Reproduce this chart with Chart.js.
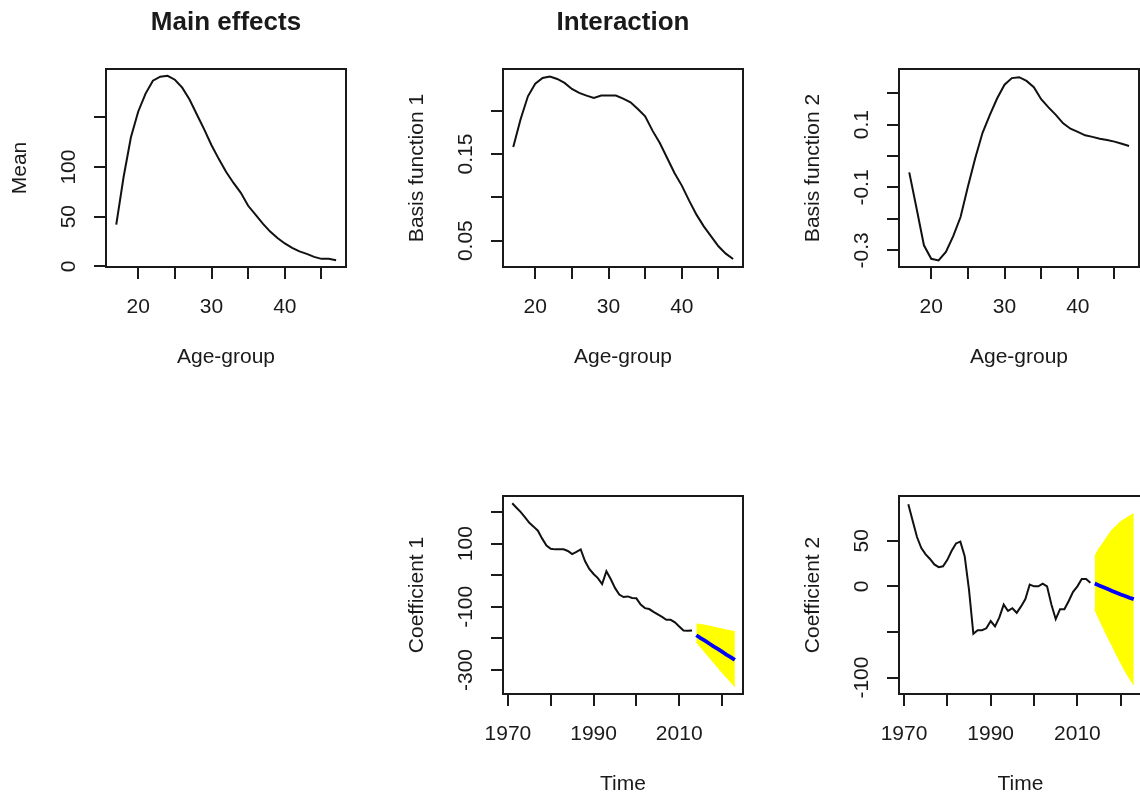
<!DOCTYPE html>
<html>
<head>
<meta charset="utf-8">
<script src="https://cdn.jsdelivr.net/npm/chart.js@4.4.1/dist/chart.umd.min.js"></script>
<style>
  html, body { margin: 0; padding: 0; background: #fff; }
  body { width: 1140px; height: 796px; position: relative; overflow: hidden; }
  canvas { position: absolute; }
</style>
</head>
<body>
<canvas id="panelMean"></canvas>
<canvas id="panelBasis1"></canvas>
<canvas id="panelBasis2"></canvas>
<canvas id="panelCoef1"></canvas>
<canvas id="panelCoef2"></canvas>
<script>
// --- datos ---
const ages = [17, 18, 19, 20, 21, 22, 23, 24, 25, 26, 27, 28, 29, 30, 31, 32,
              33, 34, 35, 36, 37, 38, 39, 40, 41, 42, 43, 44, 45, 46, 47];
const meanValues = [42, 90, 130, 156, 174, 187, 191, 192, 188, 180, 168, 153, 138, 122, 108, 95,
                    84, 74, 61, 52, 43, 35, 28.5, 23, 18.5, 15, 12.5, 9.5, 7.5, 7.5, 6];
const basis1Values = [0.158, 0.190, 0.2165, 0.231, 0.2377, 0.2392, 0.2365, 0.232, 0.225, 0.2204, 0.2173,
                      0.2146, 0.2173, 0.2173, 0.2173, 0.2138, 0.2096, 0.2019, 0.1935, 0.1769, 0.1627,
                      0.1454, 0.128, 0.1135, 0.0962, 0.080, 0.0665, 0.055, 0.0435, 0.035, 0.0288];
const basis2Values = [-0.052, -0.167, -0.284, -0.327, -0.332, -0.305, -0.255, -0.194, -0.098, -0.007,
                      0.074, 0.131, 0.184, 0.227, 0.248, 0.251, 0.239, 0.219, 0.181, 0.155, 0.131,
                      0.104, 0.087, 0.077, 0.066, 0.061, 0.055, 0.051, 0.046, 0.039, 0.032];

const years = [1971, 1972, 1973, 1974, 1975, 1976, 1977, 1978, 1979, 1980, 1981, 1982, 1983, 1984,
               1985, 1986, 1987, 1988, 1989, 1990, 1991, 1992, 1993, 1994, 1995, 1996, 1997, 1998,
               1999, 2000, 2001, 2002, 2003, 2004, 2005, 2006, 2007, 2008, 2009, 2010, 2011, 2012, 2013];
const coef1Values = [228, 214, 200, 183, 166, 154, 141, 116, 94, 84, 82, 82, 82, 77,
                     67, 74, 82, 45, 20, 4, -9, -28, 13, -12, -40, -61, -69, -67,
                     -72, -73, -93, -104, -107, -116, -124, -132, -141, -141, -149, -162, -175, -176, -175];
const coef2Values = [90, 72, 54, 42, 35, 30, 24, 21, 22, 29, 39, 47, 49, 33,
                     -4, -52, -48, -48, -46, -38, -44, -34, -20, -27, -24, -29, -22, -14,
                     2, 0, 0, 3, 0, -20, -36, -25, -25, -16, -6, 0, 8, 8, 4];

const forecastYears = [2014, 2015, 2016, 2017, 2018, 2019, 2020, 2021, 2022, 2023];
const coef1Forecast = [-190, -199, -207, -216, -225, -233, -242, -251, -259, -268];
const coef1Upper = [-154, -156, -158, -161, -164, -167, -170, -173, -176, -178];
const coef1Lower = [-212, -228, -244, -260, -276, -292, -308, -323, -338, -353];
const coef2Forecast = [3, 1, -1, -3, -5, -7, -9, -10.5, -12.5, -14];
const coef2Upper = [33, 41.5, 48, 55.5, 62, 66.5, 71, 74, 77, 79.5];
const coef2Lower = [-25, -36, -46, -56, -65, -75, -84, -93, -101, -108];

// marcas de los ejes
const ageTicks = [20, 25, 30, 35, 40, 45];
const ageTickLabels = ["20", "", "30", "", "40", ""];
const yearTicks = [1970, 1980, 1990, 2000, 2010, 2020];
const yearTickLabels = ["1970", "", "1990", "", "2010", ""];
const meanTicks = [0, 50, 100, 150];
const meanTickLabels = ["0", "50", "100", ""];
const basis1Ticks = [0.05, 0.10, 0.15, 0.20];
const basis1TickLabels = ["0.05", "", "0.15", ""];
const basis2Ticks = [-0.3, -0.2, -0.1, 0, 0.1, 0.2];
const basis2TickLabels = ["-0.3", "", "-0.1", "", "0.1", ""];
const coef1Ticks = [-300, -200, -100, 0, 100, 200];
const coef1TickLabels = ["-300", "", "-100", "", "100", ""];
const coef2Ticks = [-100, -50, 0, 50];
const coef2TickLabels = ["-100", "", "0", "50"];

const FONT = "'Liberation Sans', Arial, sans-serif";
const INK = "#1a1a1a";

function puntos(xs, ys) {
    return xs.map((x, i) => ({ x: x, y: ys[i] }));
}

function linea(xs, ys, color, ancho) {
    return { data: puntos(xs, ys), borderColor: color, borderWidth: ancho, pointRadius: 0, tension: 0, fill: false };
}

// caja completa alrededor del area del grafico (estilo R)
const cajaR = {
    id: "cajaR",
    afterDatasetsDraw(chart) {
        const { ctx, chartArea: a } = chart;
        ctx.save();
        ctx.strokeStyle = INK;
        ctx.lineWidth = 2;
        ctx.strokeRect(a.left, a.top, a.right - a.left, a.bottom - a.top);
        ctx.restore();
    }
};

function eje(ticks, labels, rango, titulo, vertical, pad) {
    return {
        type: "linear",
        min: rango[0],
        max: rango[1],
        afterFit: s => { if (vertical) s.width = 106; else s.height = 110; },
        afterBuildTicks: s => { s.ticks = ticks.map(v => ({ value: v })); },
        grid: { drawOnChartArea: false, drawTicks: true, tickLength: 12, color: INK, lineWidth: 2 },
        border: { display: true, color: INK, width: 2 },
        ticks: {
            autoSkip: false,
            minRotation: vertical ? 90 : 0,
            maxRotation: vertical ? 90 : 0,
            crossAlign: vertical ? "center" : "near",
            padding: pad,
            color: INK,
            font: { family: FONT, size: 21 },
            callback: (v, i) => labels[i]
        },
        title: {
            display: true,
            text: titulo,
            color: INK,
            font: { family: FONT, size: 21 },
            padding: vertical ? { top: 7.4, bottom: 0 } : { top: 0, bottom: 7.4 }
        }
    };
}

function crearPanel(id, p) {
    const canvas = document.getElementById(id);
    const w = 106 + p.boxW + 20, h = 69 + 198 + 110;
    canvas.width = w;
    canvas.height = h;
    canvas.style.width = w + "px";
    canvas.style.height = h + "px";
    canvas.style.left = (p.left - 106) + "px";
    canvas.style.top = (p.top - 69) + "px";

    new Chart(canvas, {
        type: "line",
        data: { datasets: p.datasets },
        plugins: [cajaR],
        options: {
            responsive: false,
            animation: false,
            devicePixelRatio: 1,
            layout: { padding: { top: p.title ? 0 : 69, right: 20, left: 0, bottom: 0 } },
            plugins: {
                legend: { display: false },
                tooltip: { enabled: false },
                title: {
                    display: !!p.title,
                    text: p.title || "",
                    fullSize: false,
                    color: INK,
                    font: { family: FONT, size: 26, weight: "bold" },
                    padding: { top: 7, bottom: 30.8 }
                }
            },
            scales: {
                x: eje(p.xTicks, p.xLabels, p.xRange, p.xTitle, false, 15.4),
                y: eje(p.yTicks, p.yLabels, p.yRange, p.yTitle, true, p.yPad)
            }
        }
    });
}

const ageRange = [15.6, 48.35];
const yearRange = [1968.85, 2024.9];

crearPanel("panelMean", {
    left: 106, top: 69, boxW: 240, title: "Main effects",
    xTicks: ageTicks, xLabels: ageTickLabels, xRange: ageRange, xTitle: "Age-group",
    yTicks: meanTicks, yLabels: meanTickLabels, yRange: [-0.7, 198.8], yTitle: "Mean", yPad: 7.5,
    datasets: [linea(ages, meanValues, "#111", 2)]
});

crearPanel("panelBasis1", {
    left: 503, top: 69, boxW: 240, title: "Interaction",
    xTicks: ageTicks, xLabels: ageTickLabels, xRange: ageRange, xTitle: "Age-group",
    yTicks: basis1Ticks, yLabels: basis1TickLabels, yRange: [0.0196, 0.248], yTitle: "Basis function 1", yPad: 4.5,
    datasets: [linea(ages, basis1Values, "#111", 2)]
});

crearPanel("panelBasis2", {
    left: 899, top: 69, boxW: 240, title: null,
    xTicks: ageTicks, xLabels: ageTickLabels, xRange: ageRange, xTitle: "Age-group",
    yTicks: basis2Ticks, yLabels: basis2TickLabels, yRange: [-0.353, 0.277], yTitle: "Basis function 2", yPad: 7,
    datasets: [linea(ages, basis2Values, "#111", 2)]
});

function banda(xs, inferior, superior) {
    return [
        { data: puntos(xs, inferior), borderColor: "#ffff00", borderWidth: 1, pointRadius: 0, tension: 0, fill: false },
        { data: puntos(xs, superior), borderColor: "#ffff00", borderWidth: 1, pointRadius: 0, tension: 0,
          backgroundColor: "#ffff00", fill: "-1" }
    ];
}

crearPanel("panelCoef1", {
    left: 503, top: 496, boxW: 240, title: null,
    xTicks: yearTicks, xLabels: yearTickLabels, xRange: yearRange, xTitle: "Time",
    yTicks: coef1Ticks, yLabels: coef1TickLabels, yRange: [-376, 251], yTitle: "Coefficient 1", yPad: 4,
    datasets: [
        linea(forecastYears, coef1Forecast, "#0000ff", 3.8),
        linea(years, coef1Values, "#111", 2)
    ].concat(banda(forecastYears, coef1Lower, coef1Upper))
});

crearPanel("panelCoef2", {
    left: 899, top: 496, boxW: 243, title: null,
    xTicks: yearTicks, xLabels: yearTickLabels, xRange: yearRange, xTitle: "Time",
    yTicks: coef2Ticks, yLabels: coef2TickLabels, yRange: [-118, 99], yTitle: "Coefficient 2", yPad: 4,
    datasets: [
        linea(forecastYears, coef2Forecast, "#0000ff", 3.8),
        linea(years, coef2Values, "#111", 2)
    ].concat(banda(forecastYears, coef2Lower, coef2Upper))
});
</script>
</body>
</html>
